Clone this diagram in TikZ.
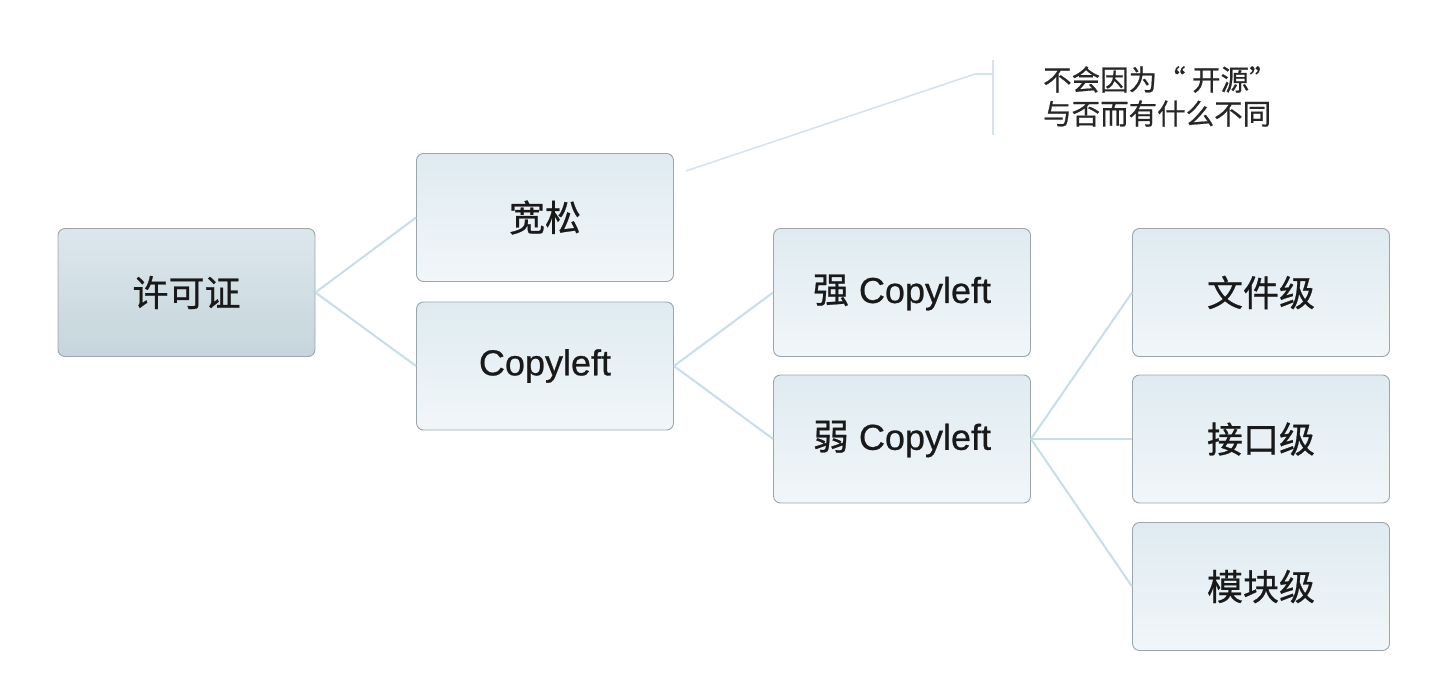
\documentclass[tikz,border=0pt]{standalone}
\usepackage{fontspec}
\setmainfont{Liberation Sans}[FakeBold=0.7]
\newfontfamily\cjk{Noto Sans CJK SC}[FakeBold=0.7]
\definecolor{edgec}{HTML}{C8DEE7}
\definecolor{boxline}{HTML}{9AA6AB}
\definecolor{rootTop}{HTML}{DCE7EC}
\definecolor{rootBot}{HTML}{C6D5DC}
\definecolor{boxTop}{HTML}{DFEBF1}
\definecolor{boxBot}{HTML}{F1F6F9}
\definecolor{notec}{HTML}{D6E3EA}
\tikzset{
  box/.style={draw=boxline, line width=0.9pt, rounded corners=7pt,
    minimum width=257pt, minimum height=128pt, inner sep=0pt,
    top color=boxTop, bottom color=boxBot, font=\fontsize{36}{40}\selectfont, text=black!90},
  rootbox/.style={box, top color=rootTop, bottom color=rootBot},
  link/.style={draw=edgec, line width=2pt},
  notelink/.style={draw=notec, line width=1.6pt},
}
\begin{document}
\begin{tikzpicture}[x=1pt,y=-1pt]
\useasboundingbox (0,0) rectangle (1434,688);
\node[rootbox] (root) at (186.5,292.5) {\cjk 许可证};
\node[box] (loose) at (545,217.5) {\cjk 宽松};
\node[box] (cl) at (545,366) {Copyleft};
\node[box] (strong) at (902,292.5) {{\cjk 强} Copyleft};
\node[box] (weak) at (902,439) {{\cjk 弱} Copyleft};
\node[box] (file) at (1261,292.5) {\cjk 文件级};
\node[box] (iface) at (1261,439) {\cjk 接口级};
\node[box] (mod) at (1261,586.5) {\cjk 模块级};
\draw[link] (root.east) -- (loose.west);
\draw[link] (root.east) -- (cl.west);
\draw[link] (cl.east) -- (strong.west);
\draw[link] (cl.east) -- (weak.west);
\draw[link] (weak.east) -- (file.west);
\draw[link] (weak.east) -- (iface.west);
\draw[link] (weak.east) -- (mod.west);
\coordinate (n0) at (686,171);
\coordinate (n1) at (975,74);
\coordinate (n2) at (993,74);
\coordinate (b1) at (993,60);
\coordinate (b2) at (993,135);
\draw[notelink] (n0) -- (n1) -- (n2);
\draw[notelink] (b1) -- (b2);
\node[anchor=north west, align=left, inner sep=0pt, font=\cjk\fontsize{28.5}{34}\selectfont, text=black!85] (note) at (1043,66) {不会因为“ 开源”\\与否而有什么不同};
\end{tikzpicture}
\end{document}
